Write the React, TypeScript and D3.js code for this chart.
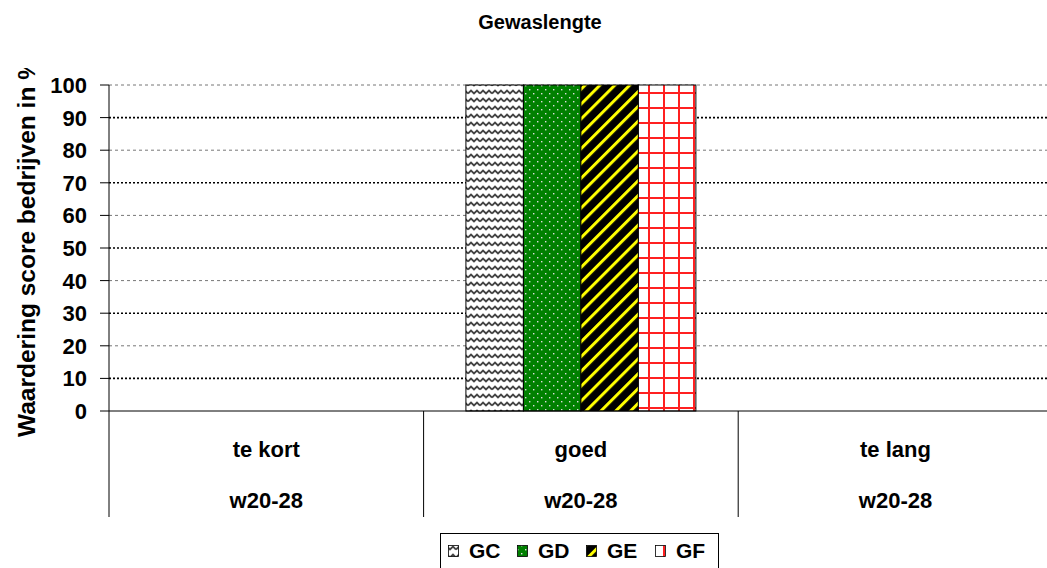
import React, { useRef, useEffect } from "react";
import * as d3 from "d3";

const categories = ["te kort", "goed", "te lang"];
const subLabels = ["w20-28", "w20-28", "w20-28"];
const seriesNames = ["GC", "GD", "GE", "GF"];
// values per series, one per category
const seriesValues = [
  [0, 100, 0],
  [0, 100, 0],
  [0, 100, 0],
  [0, 100, 0],
];
const yTicks = [0, 10, 20, 30, 40, 50, 60, 70, 80, 90, 100];

const App = () => {
  const ref = useRef<SVGSVGElement>(null);

  useEffect(() => {
    const svg = d3.select(ref.current);
    svg.selectAll("*").remove();
    const W = 1047;
    const font = "Arial, 'Liberation Sans', sans-serif";

    const left = 109;
    const top = 85;
    const bottom = 411;
    const catW = 314.6;

    const defs = svg.append("defs");

    // GC: wavy lines
    const pGC = defs
      .append("pattern")
      .attr("id", "pGC")
      .attr("patternUnits", "userSpaceOnUse")
      .attr("width", 12)
      .attr("height", 8);
    pGC.append("rect").attr("width", 12).attr("height", 8).attr("fill", "#fff");
    pGC
      .append("path")
      .attr("d", "M0,5.5 L3,2.5 L6,5.5 L9,2.5 L12,5.5")
      .attr("fill", "none")
      .attr("stroke", "#444")
      .attr("stroke-width", 1.8);

    // GD: green with white dots
    const pGD = defs
      .append("pattern")
      .attr("id", "pGD")
      .attr("patternUnits", "userSpaceOnUse")
      .attr("width", 8)
      .attr("height", 8);
    pGD.append("rect").attr("width", 8).attr("height", 8).attr("fill", "#008000");
    pGD.append("rect").attr("x", 1).attr("y", 1).attr("width", 1.4).attr("height", 1.4).attr("fill", "#ddd");
    pGD.append("rect").attr("x", 5).attr("y", 5).attr("width", 1.4).attr("height", 1.4).attr("fill", "#ddd");

    // GE: black with yellow diagonal stripes
    const pGE = defs
      .append("pattern")
      .attr("id", "pGE")
      .attr("patternUnits", "userSpaceOnUse")
      .attr("width", 10.5)
      .attr("height", 10.5)
      .attr("patternTransform", "rotate(45)");
    pGE.append("rect").attr("width", 10.5).attr("height", 10.5).attr("fill", "#000");
    pGE.append("rect").attr("x", 0).attr("width", 3).attr("height", 10.5).attr("fill", "#ffff00");

    // GF: red grid on white
    const pGF = defs
      .append("pattern")
      .attr("id", "pGF")
      .attr("patternUnits", "userSpaceOnUse")
      .attr("width", 15)
      .attr("height", 15)
      .attr("x", 3)
      .attr("y", 2);
    pGF.append("rect").attr("width", 15).attr("height", 15).attr("fill", "#fff");
    pGF.append("rect").attr("x", 0).attr("width", 2).attr("height", 15).attr("fill", "#ff2020");
    pGF.append("rect").attr("y", 0).attr("width", 15).attr("height", 2).attr("fill", "#ff2020");

    const fills = ["url(#pGC)", "url(#pGD)", "url(#pGE)", "url(#pGF)"];

    const y = d3.scaleLinear().domain([0, 100]).range([bottom, top]);
    const x0 = d3
      .scaleBand()
      .domain(categories)
      .range([left, left + catW * categories.length])
      .paddingInner(0)
      .paddingOuter(0);
    const x1 = d3
      .scaleBand()
      .domain(seriesNames)
      .range([0, x0.bandwidth()])
      .paddingOuter(0.736);

    // gridlines
    yTicks
      .filter((t) => t > 0)
      .forEach((t) => {
        const dark = t % 20 !== 0;
        svg
          .append("line")
          .attr("x1", left)
          .attr("x2", W)
          .attr("y1", y(t))
          .attr("y2", y(t))
          .attr("stroke", dark ? "#000" : "#777")
          .attr("stroke-width", dark ? 1.6 : 1)
          .attr("stroke-dasharray", dark ? "2,2" : "3,3");
      });

    // bars
    seriesNames.forEach((s, si) => {
      categories.forEach((c, ci) => {
        const v = seriesValues[si][ci];
        if (v <= 0) return;
        svg
          .append("rect")
          .attr("x", x0(c)! + x1(s)!)
          .attr("y", y(v))
          .attr("width", x1.bandwidth())
          .attr("height", y(0) - y(v))
          .attr("fill", fills[si])
          .attr("stroke", "#000")
          .attr("stroke-width", 1);
      });
    });

    // axes
    svg
      .append("line")
      .attr("x1", left)
      .attr("x2", left)
      .attr("y1", top)
      .attr("y2", 517)
      .attr("stroke", "#000");
    svg
      .append("line")
      .attr("x1", left)
      .attr("x2", W)
      .attr("y1", bottom)
      .attr("y2", bottom)
      .attr("stroke", "#000");
    yTicks.forEach((t) => {
      svg
        .append("line")
        .attr("x1", 100)
        .attr("x2", left)
        .attr("y1", y(t))
        .attr("y2", y(t))
        .attr("stroke", "#000");
      svg
        .append("text")
        .attr("x", 87)
        .attr("y", y(t) + 8)
        .attr("text-anchor", "end")
        .attr("font-family", font)
        .attr("font-weight", "bold")
        .attr("font-size", 22)
        .text(t);
    });

    // category dividers and labels
    categories.forEach((c, i) => {
      const cx = x0(c)!;
      if (i > 0) {
        svg
          .append("line")
          .attr("x1", cx)
          .attr("x2", cx)
          .attr("y1", bottom)
          .attr("y2", 517)
          .attr("stroke", "#000");
      }
      const mid = cx + x0.bandwidth() / 2;
      svg
        .append("text")
        .attr("x", mid)
        .attr("y", 457)
        .attr("text-anchor", "middle")
        .attr("font-family", font)
        .attr("font-weight", "bold")
        .attr("font-size", 22)
        .text(c);
      svg
        .append("text")
        .attr("x", mid)
        .attr("y", 508)
        .attr("text-anchor", "middle")
        .attr("font-family", font)
        .attr("font-weight", "bold")
        .attr("font-size", 22)
        .text(subLabels[i]);
    });

    // title
    svg
      .append("text")
      .attr("x", 540)
      .attr("y", 29)
      .attr("text-anchor", "middle")
      .attr("font-family", font)
      .attr("font-weight", "bold")
      .attr("font-size", 20)
      .text("Gewaslengte");

    // y axis title (clipped at the top as in the original)
    defs
      .append("clipPath")
      .attr("id", "yclip")
      .append("rect")
      .attr("x", 0)
      .attr("y", 68)
      .attr("width", 50)
      .attr("height", 400);
    svg
      .append("g")
      .attr("clip-path", "url(#yclip)")
      .append("text")
      .attr("transform", "translate(35,437) rotate(-90)")
      .attr("font-family", font)
      .attr("font-weight", "bold")
      .attr("font-size", 24.5)
      .text("Waardering score bedrijven in %");

    // legend
    svg
      .append("rect")
      .attr("x", 440.5)
      .attr("y", 533.5)
      .attr("width", 278)
      .attr("height", 40)
      .attr("fill", "#fff")
      .attr("stroke", "#000");
    const legendX = [448, 517, 586, 655];
    seriesNames.forEach((s, i) => {
      svg
        .append("rect")
        .attr("x", legendX[i] + 0.5)
        .attr("y", 545.5)
        .attr("width", 10)
        .attr("height", 11)
        .attr("fill", fills[i])
        .attr("stroke", "#000")
        .attr("stroke-width", 0.8);
      svg
        .append("text")
        .attr("x", legendX[i] + 21)
        .attr("y", 558)
        .attr("font-family", font)
        .attr("font-weight", "bold")
        .attr("font-size", 21)
        .text(s);
    });
  }, []);

  return (
    <svg
      ref={ref}
      width={1047}
      height={568}
      style={{ position: "absolute", left: 0, top: 0, background: "#fff" }}
    />
  );
};

export default App;
